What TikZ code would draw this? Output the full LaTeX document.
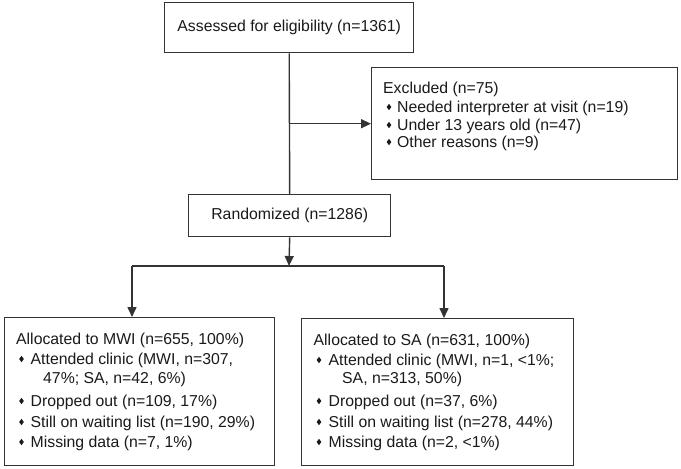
\documentclass[tikz,border=0pt]{standalone}
\usepackage{fontspec}
\setmainfont{Liberation Sans}
\usetikzlibrary{arrows.meta}
\definecolor{linec}{HTML}{333333}
\definecolor{textc}{HTML}{1A1A1A}
\tikzset{
  box/.style={draw=linec, line width=1.4pt, fill=white, inner sep=0pt, anchor=north west,
    font=\fontsize{15.8}{18}\selectfont, text=textc},
  txt/.style={inner sep=0pt, anchor=base west, font=\fontsize{15.8}{18}\selectfont, text=textc},
  conn/.style={draw=linec, line width=1.4pt},
  arr/.style={conn, -{Triangle[length=10pt,width=9pt]}},
  bul/.pic={\fill[textc] (-2.3pt,0pt)--(0pt,-3.2pt)--(2.3pt,0pt)--(0pt,3.2pt)--cycle;}
}
\begin{document}
\begin{tikzpicture}[x=1pt,y=-1pt]
\useasboundingbox[fill=white] (0,0) rectangle (681,469);
% boxes
\node[box, minimum width=249pt, minimum height=50pt] (top) at (164,2) {Assessed for eligibility (n=1361)};
\node[box, minimum width=306pt, minimum height=112pt] (excl) at (371,67) {};
\node[box, minimum width=202pt, minimum height=42pt] (rand) at (188,194) {Randomized (n=1286)};
\node[box, minimum width=270pt, minimum height=148pt] (left) at (4,317) {};
\node[box, minimum width=272pt, minimum height=147pt] (right) at (301,318) {};
% excluded text
\node[txt] (e0) at (383,93) {Excluded (n=75)};
\pic at (389,107) {bul};
\node[txt] (e1) at (397,112) {Needed interpreter at visit (n=19)};
\pic at (389,125) {bul};
\node[txt] (e2) at (397,130) {Under 13 years old (n=47)};
\pic at (389,142) {bul};
\node[txt] (e3) at (397,147) {Other reasons (n=9)};
% left text
\node[txt] (l0) at (16,344) {Allocated to MWI (n=655, 100\%)};
\pic at (21.5,359) {bul};
\node[txt] (l1) at (30.5,364) {Attended clinic (MWI, n=307,};
\node[txt] (l1b) at (43,383) {47\%; SA, n=42, 6\%)};
\pic at (21.5,401) {bul};
\node[txt] (l2) at (30.5,406) {Dropped out (n=109, 17\%)};
\pic at (21.5,422) {bul};
\node[txt] (l3) at (30.5,427) {Still on waiting list (n=190, 29\%)};
\pic at (21.5,442) {bul};
\node[txt] (l4) at (30.5,447) {Missing data (n=7, 1\%)};
% right text
\node[txt] (r0) at (313.5,345) {Allocated to SA (n=631, 100\%)};
\pic at (319,360) {bul};
\node[txt] (r1) at (328.5,365) {Attended clinic (MWI, n=1, <1\%;};
\node[txt] (r1b) at (342,383) {SA, n=313, 50\%)};
\pic at (319,401) {bul};
\node[txt] (r2) at (328.5,406) {Dropped out (n=37, 6\%)};
\pic at (319,422) {bul};
\node[txt] (r3) at (328.5,427) {Still on waiting list (n=278, 44\%)};
\pic at (319,442) {bul};
\node[txt] (r4) at (328.5,447) {Missing data (n=2, <1\%)};
% connectors
\draw[conn] (top.south) -- (rand.north);
\draw[arr] (top.south |- excl.west) -- (excl.west);
\coordinate (j) at (289,266);
\coordinate (jl) at (132,266);
\coordinate (jr) at (444,266);
\draw[arr] (rand.south) -- (j);
\draw[conn] (jl) -- (jr);
\draw[arr] (jl) -- (jl |- left.north);
\draw[arr] (jr) -- (jr |- right.north);
\end{tikzpicture}
\end{document}
